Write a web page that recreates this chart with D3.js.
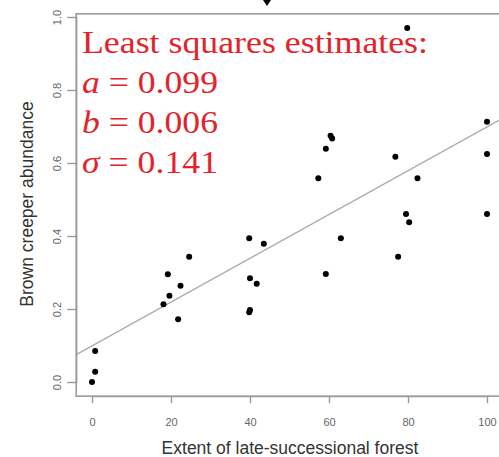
<!DOCTYPE html>
<html>
<head>
<meta charset="utf-8">
<script src="https://cdn.jsdelivr.net/npm/d3@7"></script>
<style>
  html, body { margin: 0; padding: 0; background: #fff; }
  svg { display: block; }
</style>
</head>
<body>
<svg id="chart" width="499" height="457"></svg>
<script>
// Brown creeper abundance vs. extent of late-successional forest (30 sites)
const forestExtent = [0, 0.8, 0.8, 18.1, 19.2, 19.6, 21.8, 22.4, 24.6,
  39.8, 40, 39.8, 40, 41.7, 43.5, 57.3, 59.2, 59.2, 60.4, 60.8, 63,
  76.8, 77.5, 79.5, 79.8, 80.3, 82.4, 100, 100, 100];
const creeperAbundance = [0, 0.028, 0.085, 0.213, 0.295, 0.236, 0.172, 0.264, 0.343,
  0.191, 0.197, 0.394, 0.284, 0.269, 0.379, 0.558, 0.296, 0.639, 0.675, 0.667, 0.394,
  0.617, 0.343, 0.460, 0.970, 0.438, 0.558, 0.713, 0.625, 0.460];

const xTicks = [0, 20, 40, 60, 80, 100];
const yTicks = [0, 0.2, 0.4, 0.6, 0.8, 1.0];

// Least-squares fit
const fitA = 0.099, fitB = 0.006, fitSigma = 0.141;
const estimateLines = [
  { sym: "a", val: "0.099" },
  { sym: "b", val: "0.006" },
  { sym: "\u03C3", val: "0.141" }
];

const svg = d3.select("#chart");

const x = d3.scaleLinear().domain([0, 100]).range([92, 487]);
const y = d3.scaleLinear().domain([0, 1]).range([382, 17]);

// plot region padded 4% beyond the data range
const xr = d3.extent(forestExtent), yr = d3.extent(creeperAbundance);
const xPad = (xr[1] - xr[0]) * 0.04, yPad = (yr[1] - yr[0]) * 0.04;
const plotLeft = x(xr[0] - xPad), plotRight = x(xr[1] + xPad);
const plotTop = y(yr[1] + yPad), plotBottom = y(yr[0] - yPad);

const axisGrey = "#9a9a9a";
const sans = "Liberation Sans, Arial, sans-serif";

svg.append("defs").append("clipPath").attr("id", "plotClip")
  .append("rect").attr("x", plotLeft).attr("y", plotTop)
  .attr("width", plotRight - plotLeft).attr("height", plotBottom - plotTop);

// fitted line a + b*x across the whole plot region
svg.append("line")
  .attr("clip-path", "url(#plotClip)")
  .attr("x1", plotLeft).attr("x2", plotRight)
  .attr("y1", y(fitA + fitB * (xr[0] - xPad)))
  .attr("y2", y(fitA + fitB * (xr[1] + xPad)))
  .attr("stroke", "#a8a8a8").attr("stroke-width", 1.3);

// box
svg.append("rect")
  .attr("x", plotLeft).attr("y", plotTop)
  .attr("width", plotRight - plotLeft).attr("height", plotBottom - plotTop)
  .attr("fill", "none").attr("stroke", axisGrey).attr("stroke-width", 1.6);

// points
svg.append("g").selectAll("circle")
  .data(forestExtent.map((v, i) => [v, creeperAbundance[i]]))
  .join("circle")
  .attr("cx", d => x(d[0])).attr("cy", d => y(d[1]))
  .attr("r", 3).attr("fill", "#000");

// y axis
const gy = svg.append("g").attr("transform", `translate(${plotLeft},0)`)
  .call(d3.axisLeft(y).tickValues(yTicks).tickFormat(d3.format(".1f"))
    .tickSize(9).tickSizeOuter(0));
gy.select(".domain").attr("stroke", axisGrey).attr("stroke-width", 1.4);
gy.selectAll(".tick line").attr("stroke", axisGrey).attr("stroke-width", 1.4);
gy.selectAll(".tick text")
  .attr("x", null).attr("dy", null)
  .attr("transform", `translate(${61 - plotLeft},0) rotate(-90)`)
  .attr("text-anchor", "middle")
  .attr("font-family", sans)
  .attr("font-size", 11).attr("fill", "#666");

// x axis
const gx = svg.append("g").attr("transform", `translate(0,${plotBottom})`)
  .call(d3.axisBottom(x).tickValues(xTicks).tickSize(7).tickSizeOuter(0));
gx.select(".domain").attr("stroke", axisGrey).attr("stroke-width", 1.4);
gx.selectAll(".tick line").attr("stroke", axisGrey).attr("stroke-width", 1.4);
gx.selectAll(".tick text")
  .attr("y", 30).attr("dy", null)
  .attr("font-family", sans)
  .attr("font-size", 11).attr("fill", "#666");

// axis titles
svg.append("text")
  .attr("x", 290).attr("y", 454)
  .attr("text-anchor", "middle")
  .attr("font-family", sans)
  .attr("font-size", 17.5).attr("fill", "#333")
  .text("Extent of late-successional forest");

svg.append("text")
  .attr("transform", "translate(33,204) rotate(-90)")
  .attr("text-anchor", "middle")
  .attr("font-family", sans)
  .attr("font-size", 17.5).attr("fill", "#333")
  .text("Brown creeper abundance");

// estimates annotation
const red = "#e3232b";
const serif = "Liberation Serif, 'Times New Roman', serif";
svg.append("text")
  .attr("x", 82).attr("y", 53)
  .attr("font-family", serif).attr("font-size", 32).attr("fill", red)
  .attr("textLength", 346).attr("lengthAdjust", "spacingAndGlyphs")
  .text("Least squares estimates:");

estimateLines.forEach((d, i) => {
  const t = svg.append("text")
    .attr("x", 82).attr("y", 93 + i * 40)
    .attr("font-family", serif).attr("font-size", 32).attr("fill", red)
    .attr("textLength", 136).attr("lengthAdjust", "spacingAndGlyphs");
  t.append("tspan").attr("font-style", "italic").text(d.sym);
  t.append("tspan").text(" = " + d.val);
});

// pointer mark above the plot
svg.append("path")
  .attr("d", "M263,0 L271,0 L267,6 Z")
  .attr("fill", "#000");
</script>
</body>
</html>
